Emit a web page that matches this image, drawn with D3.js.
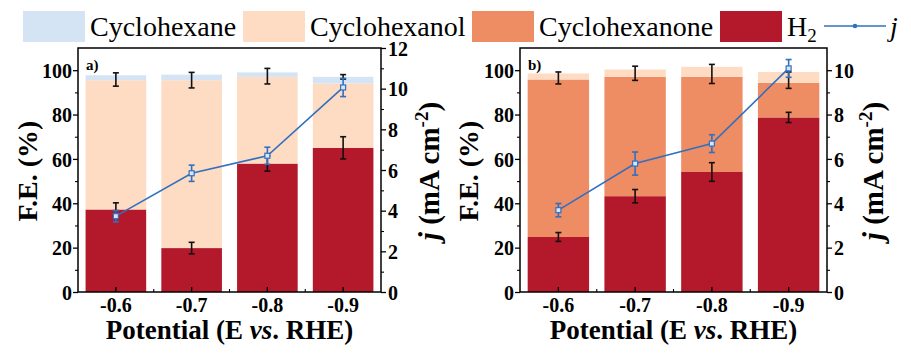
<!DOCTYPE html>
<html><head><meta charset="utf-8">
<script src="https://cdn.jsdelivr.net/npm/d3@7"></script>
<style>
html,body{margin:0;padding:0;background:#fff;}
svg{display:block;}
</style></head>
<body>
<svg id="chart" width="911" height="356"></svg>
<script>
// ---------- data ----------
const categories = ["-0.6", "-0.7", "-0.8", "-0.9"];
const seriesNames = ["Cyclohexane", "Cyclohexanol", "Cyclohexanone", "H2"];
const seriesColors = ["#d5e4f4", "#fddcc3", "#ee8c63", "#b3182b"];

// panel a
const aH2 = [37.2, 19.8, 57.9, 65.0];
const aH2Err = [3.0, 2.6, 3.4, 5.0];
const aCyclohexanone = [0, 0, 0, 0];
const aCyclohexanol = [58.3, 75.7, 39.1, 29.0];
const aCyclohexane = [2.2, 2.5, 2.0, 3.0];
const aTotal = [95.8, 95.5, 97.3, 97.0];
const aTotalErr = [3.0, 3.5, 3.5, 1.0];
const aJ = [3.73, 5.84, 6.70, 10.06];
const aJErr = [0.28, 0.40, 0.42, 0.45];

// panel b
const bH2 = [24.8, 43.2, 54.1, 78.7];
const bH2Err = [2.0, 3.0, 4.2, 2.3];
const bCyclohexanone = [71.0, 53.8, 42.9, 15.6];
const bCyclohexanol = [2.7, 3.3, 4.5, 4.9];
const bCyclohexane = [0, 0, 0, 0];
const bTotal = [96.5, 98.6, 98.3, 95.5];
const bTotalErr = [2.7, 3.2, 4.3, 3.7];
const bJ = [3.69, 5.79, 6.69, 10.08];
const bJErr = [0.30, 0.52, 0.40, 0.40];

const feTicks = [0, 20, 40, 60, 80, 100];
const jTicksA = [0, 2, 4, 6, 8, 10, 12];
const jTicksB = [0, 2, 4, 6, 8, 10];

// ---------- drawing ----------
const FONT = "Liberation Serif";
const svg = d3.select("#chart");
const lineColor = "#3170bf";

function buildRows(h2, one, ol, ane) {
  return categories.map((c, i) => ({cat: c, H2: h2[i], Cyclohexanone: one[i], Cyclohexanol: ol[i], Cyclohexane: ane[i]}));
}

function panel(cfg) {
  const {left, right, top, bottom, rows, h2Err, total, totalErr, j, jErr, jMax, jTicks, label, leftTitleX, rightTitleX} = cfg;
  const g = svg.append("g");
  const x = d3.scaleBand().domain(categories).range([left, right]).paddingInner(0.2).paddingOuter(0.1);
  const y = d3.scaleLinear().domain([0, 110]).range([bottom, top]);
  const yr = d3.scaleLinear().domain([0, jMax]).range([bottom, top]);

  const stackOrder = ["H2", "Cyclohexanone", "Cyclohexanol", "Cyclohexane"];
  const stack = d3.stack().keys(stackOrder)(rows);
  const color = d3.scaleOrdinal().domain(seriesNames).range(seriesColors);

  g.selectAll("g.layer").data(stack).join("g").attr("class", "layer")
    .attr("fill", d => color(d.key))
    .selectAll("rect").data(d => d).join("rect")
    .attr("x", d => x(d.data.cat))
    .attr("width", x.bandwidth())
    .attr("y", d => y(d[1]))
    .attr("height", d => Math.max(0, y(d[0]) - y(d[1])));

  function errBars(vals, errs, scale, col, capW) {
    const eg = g.append("g").attr("stroke", col).attr("stroke-width", 1.6).attr("fill", "none");
    categories.forEach((c, i) => {
      const cx = x(c) + x.bandwidth() / 2;
      const y1 = scale(vals[i] + errs[i]), y2 = scale(vals[i] - errs[i]);
      eg.append("line").attr("x1", cx).attr("x2", cx).attr("y1", y1).attr("y2", y2);
      eg.append("line").attr("x1", cx - capW).attr("x2", cx + capW).attr("y1", y1).attr("y2", y1);
      eg.append("line").attr("x1", cx - capW).attr("x2", cx + capW).attr("y1", y2).attr("y2", y2);
    });
  }
  errBars(rows.map(r => r.H2), h2Err, y, "#111", 3);
  errBars(total, totalErr, y, "#111", 3);

  const line = d3.line().x((d, i) => x(categories[i]) + x.bandwidth() / 2).y(d => yr(d));
  g.append("path").datum(j).attr("d", line).attr("fill", "none").attr("stroke", lineColor).attr("stroke-width", 1.6);
  errBars(j, jErr, yr, lineColor, 3);
  g.selectAll("rect.mk").data(j).join("rect").attr("class", "mk")
    .attr("x", (d, i) => x(categories[i]) + x.bandwidth() / 2 - 2.5)
    .attr("y", d => yr(d) - 2.5).attr("width", 5).attr("height", 5)
    .attr("fill", "#d8e6f7").attr("stroke", lineColor).attr("stroke-width", 1.2);

  g.append("rect").attr("x", left).attr("y", top).attr("width", right - left).attr("height", bottom - top)
    .attr("fill", "none").attr("stroke", "#000").attr("stroke-width", 1.5);

  const tickFont = (sel, size) => {
    sel.attr("font-family", FONT).attr("font-size", size).attr("font-weight", "bold");
    sel.selectAll("text").attr("font-family", FONT).attr("font-size", size).attr("font-weight", "bold").attr("fill", "#000");
  };

  const la = g.append("g").attr("transform", `translate(${left},0)`)
    .call(d3.axisLeft(y).tickValues(feTicks).tickSize(5).tickPadding(1).tickFormat(d3.format("d")));
  la.select(".domain").remove();
  la.selectAll("line").attr("stroke-width", 1.3);
  tickFont(la, 20); la.selectAll("text").attr("dy", "0.36em");
  const lm = g.append("g").attr("transform", `translate(${left},0)`)
    .call(d3.axisLeft(y).tickValues(d3.range(10, 110, 20)).tickSize(3).tickFormat(""));
  lm.select(".domain").remove(); lm.selectAll("line").attr("stroke-width", 1.1);

  const ra = g.append("g").attr("transform", `translate(${right},0)`)
    .call(d3.axisRight(yr).tickValues(jTicks).tickSize(5).tickPadding(2).tickFormat(d3.format("d")));
  ra.select(".domain").remove();
  ra.selectAll("line").attr("stroke-width", 1.3);
  tickFont(ra, 20); ra.selectAll("text").attr("dy", "0.36em");
  const rm = g.append("g").attr("transform", `translate(${right},0)`)
    .call(d3.axisRight(yr).tickValues(d3.range(1, jMax, 2)).tickSize(3).tickFormat(""));
  rm.select(".domain").remove(); rm.selectAll("line").attr("stroke-width", 1.1);

  const ba = g.append("g").attr("transform", `translate(0,${bottom})`)
    .call(d3.axisBottom(x).tickSize(-5).tickPadding(6));
  ba.select(".domain").remove();
  ba.selectAll("line").attr("stroke-width", 1.3);
  tickFont(ba, 20); ba.selectAll("text").attr("dy", "0.71em");
  const step = x.step();
  const bounds = categories.slice(1).map(c => x(c) - step * x.paddingInner() / 2);
  g.selectAll("line.minx").data(bounds).join("line").attr("class", "minx")
    .attr("x1", d => d).attr("x2", d => d).attr("y1", bottom).attr("y2", bottom - 3)
    .attr("stroke", "#000").attr("stroke-width", 1.1);

  const T = (sel) => sel.attr("font-family", FONT).attr("font-weight", "bold").attr("fill", "#000");

  T(g.append("text")).attr("transform", `translate(${leftTitleX},${(top + bottom) / 2 + 1}) rotate(-90)`)
    .attr("text-anchor", "middle").attr("font-size", 28).text("F.E. (%)");
  const rt = T(g.append("text")).attr("transform", `translate(${rightTitleX},${(top + bottom) / 2 + 1}) rotate(-90)`)
    .attr("text-anchor", "middle").attr("font-size", 29);
  rt.append("tspan").attr("font-style", "italic").text("j");
  rt.append("tspan").text(" (mA cm");
  rt.append("tspan").attr("font-size", 19).attr("dy", -11).text("-2");
  rt.append("tspan").attr("dy", 11).text(")");

  const xt = T(g.append("text")).attr("x", (left + right) / 2).attr("y", 339)
    .attr("text-anchor", "middle").attr("font-size", 27);
  xt.append("tspan").text("Potential (E ");
  xt.append("tspan").attr("font-style", "italic").text("vs");
  xt.append("tspan").text(". RHE)");

  T(g.append("text")).attr("x", left + 8).attr("y", top + 22).attr("font-size", 15).text(label);
}

panel({left: 78, right: 381, top: 48, bottom: 292,
  rows: buildRows(aH2, aCyclohexanone, aCyclohexanol, aCyclohexane),
  h2Err: aH2Err, total: aTotal, totalErr: aTotalErr, j: aJ, jErr: aJErr,
  jMax: 12, jTicks: jTicksA, label: "a)", leftTitleX: 37, rightTitleX: 439});

panel({left: 520, right: 827, top: 48, bottom: 292,
  rows: buildRows(bH2, bCyclohexanone, bCyclohexanol, bCyclohexane),
  h2Err: bH2Err, total: bTotal, totalErr: bTotalErr, j: bJ, jErr: bJErr,
  jMax: 11, jTicks: jTicksB, label: "b)", leftTitleX: 478, rightTitleX: 883});

// ---------- legend ----------
const legX = [23, 243, 472, 720];
const leg = svg.append("g").attr("font-size", 28).attr("font-family", FONT);
seriesNames.forEach((name, i) => {
  leg.append("rect").attr("x", legX[i]).attr("y", 11).attr("width", 62).attr("height", 31).attr("fill", seriesColors[i]);
  const t = leg.append("text").attr("x", legX[i] + 67).attr("y", 36).attr("font-family", FONT);
  if (name === "H2") {
    t.append("tspan").text("H");
    t.append("tspan").attr("font-size", 19).attr("dy", 6).text("2");
  } else t.text(name);
});
leg.append("line").attr("x1", 824).attr("x2", 886).attr("y1", 26).attr("y2", 26).attr("stroke", lineColor).attr("stroke-width", 1.6);
leg.append("circle").attr("cx", 855).attr("cy", 26).attr("r", 2.3).attr("fill", lineColor);
leg.append("text").attr("x", 890).attr("y", 36).attr("font-family", FONT).attr("font-style", "italic").text("j");
</script>
</body></html>
